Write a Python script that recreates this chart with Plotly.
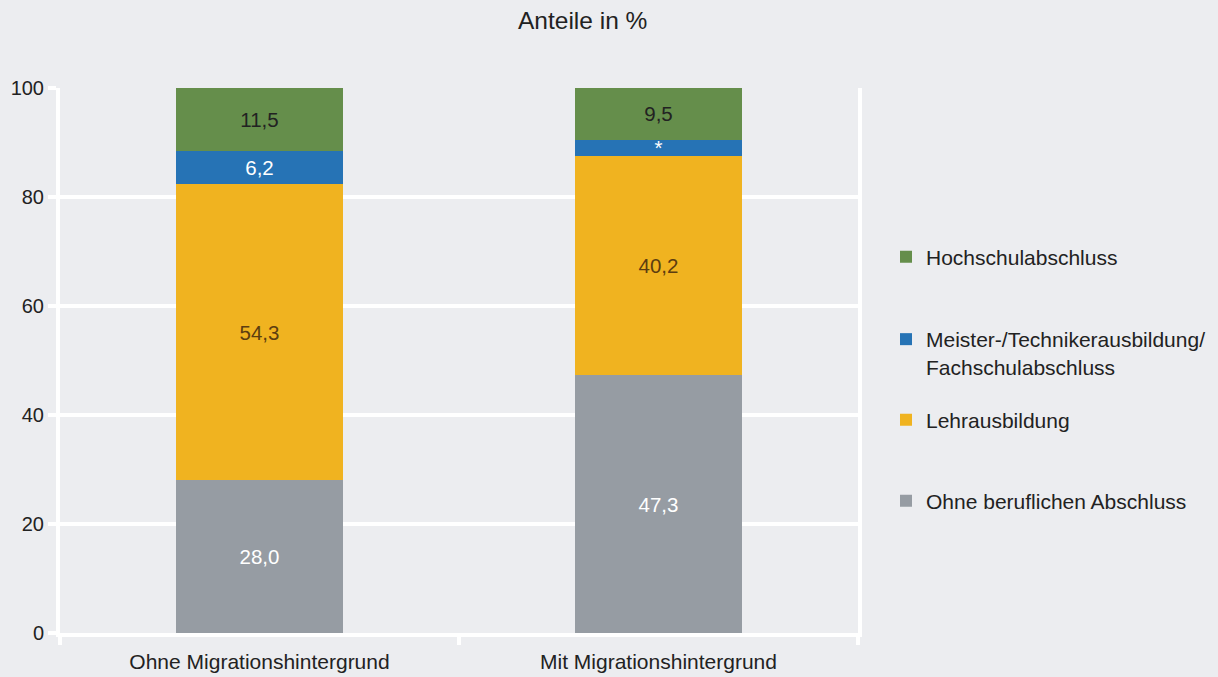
import plotly.graph_objects as go

# Berufsabschluss nach Migrationshintergrund, Anteile in %
categories = ["Ohne Migrationshintergrund", "Mit Migrationshintergrund"]
ohne_abschluss = [28.0, 47.3]
lehrausbildung = [54.3, 40.2]
meister_techniker = [6.2, 3.0]
hochschule = [11.5, 9.5]
# value too uncertain to print for the second group
meister_labels = ["6,2", "*"]

y_ticks = [0, 20, 40, 60, 80, 100]

W, H = 1218, 677
BG = "#ecedf0"
FONT = "Liberation Sans, Arial, sans-serif"
TXT = "#222222"

# plot area in pixels
PLOT_L, PLOT_R, PLOT_T, PLOT_B = 60, 858, 88, 633


def fmt(values):
    return [f"{v:.1f}".replace(".", ",") for v in values]


def cx(pixel_x):
    return pixel_x / W


def cy(pixel_y):
    return 1 - pixel_y / H


series = [
    ("Ohne beruflichen Abschluss", ohne_abschluss, fmt(ohne_abschluss), "#969ca3", "white", "legend4"),
    ("Lehrausbildung", lehrausbildung, fmt(lehrausbildung), "#f0b320", "#5c3d10", "legend3"),
    ("Meister-/Technikerausbildung/<br>Fachschulabschluss", meister_techniker, meister_labels, "#2673b5", "white", "legend2"),
    ("Hochschulabschluss", hochschule, fmt(hochschule), "#658e4b", TXT, "legend"),
]

fig = go.Figure()
for name, vals, labels, color, tcolor, leg in series:
    fig.add_trace(go.Bar(
        x=categories, y=vals, name=name, text=labels,
        marker=dict(color=color, line=dict(width=0)),
        textposition="inside", insidetextanchor="middle", textangle=0,
        insidetextfont=dict(color=tcolor, size=20.5, family=FONT),
        constraintext="none", legend=leg, showlegend=True, hoverinfo="skip",
    ))

legend_common = dict(
    xref="container", yref="container",
    xanchor="left", yanchor="middle", x=cx(886),
    bgcolor="rgba(0,0,0,0)", font=dict(size=21, family=FONT, color=TXT),
    valign="top",
)

fig.update_layout(
    barmode="stack", bargap=0.582, showlegend=True,
    width=W, height=H,
    paper_bgcolor=BG, plot_bgcolor=BG,
    margin=dict(l=PLOT_L, r=W - PLOT_R, t=PLOT_T, b=H - PLOT_B),
    font=dict(family=FONT, size=20, color=TXT),
    legend=dict(legend_common, y=cy(257)),
    legend2=dict(legend_common, y=cy(353)),
    legend3=dict(legend_common, y=cy(420)),
    legend4=dict(legend_common, y=cy(501)),
    annotations=[dict(
        text="Anteile in %", xref="paper", yref="paper",
        x=(582 - PLOT_L) / (PLOT_R - PLOT_L),
        y=1 + (PLOT_T - 21) / (PLOT_B - PLOT_T),
        xanchor="center", yanchor="middle",
        showarrow=False, font=dict(size=24.5, family=FONT, color=TXT),
    )],
)

fig.update_yaxes(
    range=[0, 100], tickvals=y_ticks, ticktext=[str(t) for t in y_ticks],
    showgrid=True, gridcolor="white", gridwidth=4,
    showline=True, linecolor="white", linewidth=4, mirror=True,
    ticks="outside", ticklen=8, tickwidth=4, tickcolor="white",
    zeroline=False, tickfont=dict(size=20, color=TXT), ticklabelstandoff=0,
    automargin=False,
)
fig.update_xaxes(
    showgrid=False, showline=True, linecolor="white", linewidth=4,
    ticks="outside", tickson="boundaries", ticklen=8, tickwidth=4,
    tickcolor="white", tickfont=dict(size=21, color=TXT), ticklabelstandoff=7,
    automargin=False,
)

fig.write_html("out.html")
